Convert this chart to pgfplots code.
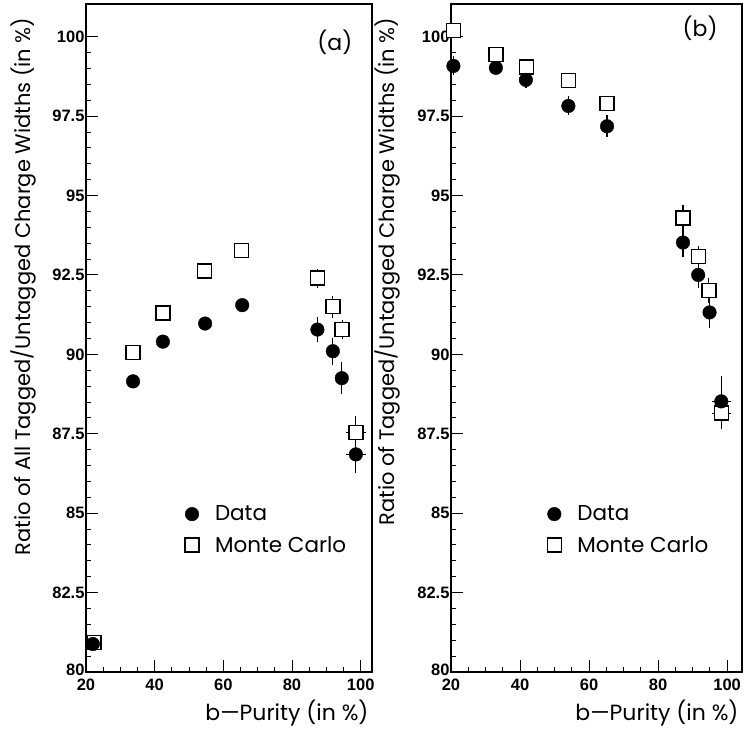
\documentclass[border=0pt]{standalone}
\usepackage{fontspec}
\setmainfont{Liberation Sans}
\newfontfamily\geo{Poppins}[Ligatures=TeX]
\usepackage{pgfplots}
\pgfplotsset{compat=1.18}

\pgfplotstableread{
x y ex ey
22.3 80.92 0 0
33.7 90.05 0 0
42.4 91.30 0 0
54.5 92.62 0 0
65.3 93.28 0 0
87.4 92.40 0 0.3
91.9 91.50 0 0.35
94.6 90.78 0 0.3
98.6 87.55 3 0.5
}\MCa
\pgfplotstableread{
x y ex ey
22.0 80.88 0 0
33.7 89.15 0 0
42.4 90.40 0 0
54.7 90.97 0 0
65.5 91.55 0 0
87.4 90.78 0 0.4
91.9 90.10 0 0.42
94.5 89.25 0 0.5
98.6 86.85 3 0.6
}\DATAa
\pgfplotstableread{
x y ex ey
20.8 100.20 0 0
33.0 99.45 0 0
41.8 99.05 0 0
54.0 98.62 0 0
65.2 97.90 0 0
87.2 94.29 0 0.4
91.6 93.07 0 0.35
94.7 92.01 0 0.4
98.3 88.15 2.8 0.5
}\MCb
\pgfplotstableread{
x y ex ey
20.7 99.08 0 0.3
33.0 99.02 0 0.2
41.7 98.64 0 0.25
54.0 97.82 0 0.3
65.2 97.18 0 0.35
87.2 93.52 0 0.45
91.6 92.50 0 0.4
94.9 91.32 0 0.5
98.3 88.52 2.8 0.8
}\DATAb

\pgfplotsset{
  myax/.style={
    scale only axis, height=668pt,
    xmin=20, ymin=80, ymax=101.03,
    axis line style={line width=1.3pt},
    xtick={20,40,60,80,100}, minor x tick num=3,
    ytick={80,82.5,85,87.5,90,92.5,95,97.5,100}, minor y tick num=4,
    yticklabels={\raisebox{5pt}{80},82.5,85,87.5,90,92.5,95,97.5,100},
    tick align=inside, xtick pos=bottom, ytick pos=left,
    major tick length=12pt, minor tick length=5pt,
    every tick/.style={line width=1pt, black},
    tick label style={font=\bfseries\fontsize{16.5}{16.5}\selectfont},
    xticklabel style={yshift=-3pt},
    yticklabel style={xshift=2pt},
    label style={font=\geo\fontsize{21}{21}\selectfont},
    xlabel={b---Purity (in \%)},
    xlabel style={at={(axis description cs:1,0)}, anchor=north east, yshift=-24pt,
      font=\geo\fontsize{22}{22}\selectfont},
    reverse legend,
    legend style={draw=none, fill=none, font=\geo\fontsize{21.5}{21.5}\selectfont,
      row sep=10pt, legend cell align=left},
    clip=false,
  },
  mc/.style={only marks, mark=square*, mark size=7pt, black,
    mark options={fill=white, line width=1.3pt},
    error bars/.cd, x dir=both, x explicit, y dir=both, y explicit,
    error bar style={line width=1.2pt}, error mark=none},
  dat/.style={only marks, mark=*, mark size=6.8pt, black,
    error bars/.cd, x dir=both, x explicit, y dir=both, y explicit,
    error bar style={line width=1.2pt}, error mark=none},
}

\begin{document}
\begin{tikzpicture}
\useasboundingbox (-86pt,-59.3pt) rectangle (662pt,672pt);
\begin{axis}[myax, at={(0pt,0pt)}, anchor=south west, width=286pt, xmax=103.3,
  xticklabel={\pgfmathprintnumber[assume math mode=true]{\tick}},
  ylabel={Ratio of All Tagged/Untagged Charge Widths (in \%)},
  ylabel style={at={(axis description cs:-0.22,0.985)}, anchor=east},
  legend style={at={(axis description cs:0.335,0.255)}, anchor=north west}]
\addplot[mc] table[x=x,y=y,x error=ex,y error=ey]{\MCa};
\addlegendentry{\hspace{14pt}Monte Carlo}
\addplot[dat] table[x=x,y=y,x error=ex,y error=ey]{\DATAa};
\addlegendentry{\hspace{14pt}Data}
\node[font=\geo\fontsize{22}{22}\selectfont] at (axis description cs:0.87,0.943) {(a)};
\end{axis}
\begin{axis}[myax, at={(365pt,0pt)}, anchor=south west, width=291pt, xmax=104.3,
  xticklabel={\pgfmathprintnumber[assume math mode=true]{\tick}},
  ylabel={Ratio of Tagged/Untagged Charge Widths (in \%)},
  ylabel style={at={(axis description cs:-0.22,0.985)}, anchor=east},
  legend style={at={(axis description cs:0.32,0.255)}, anchor=north west}]
\addplot[mc] table[x=x,y=y,x error=ex,y error=ey]{\MCb};
\addlegendentry{\hspace{14pt}Monte Carlo}
\addplot[dat] table[x=x,y=y,x error=ex,y error=ey]{\DATAb};
\addlegendentry{\hspace{14pt}Data}
\node[font=\geo\fontsize{22}{22}\selectfont] at (axis description cs:0.856,0.964) {(b)};
\end{axis}
\end{tikzpicture}
\end{document}
